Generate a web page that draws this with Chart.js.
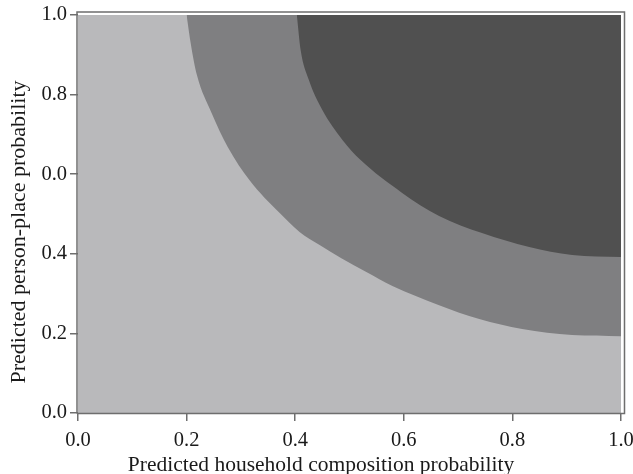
<!DOCTYPE html>
<html>
<head>
<meta charset="utf-8">
<script src="https://cdn.jsdelivr.net/npm/chart.js@4.4.1/dist/chart.umd.min.js"></script>
<style>
  html, body { margin: 0; padding: 0; background: #ffffff; overflow: hidden; }
</style>
</head>
<body>
<canvas id="contourChart" width="633" height="474"></canvas>
<script>
// tick labels as printed on the axes
const xTickLabels = ["0.0", "0.2", "0.4", "0.6", "0.8", "1.0"];
const yTickLabels = ["0.0", "0.2", "0.4", "0.0", "0.8", "1.0"];

// boundary between light and mid band
const midBoundaryX = [0.200, 0.208, 0.219, 0.246, 0.276, 0.316, 0.371, 0.408, 0.445, 0.485, 0.531, 0.579, 0.665, 0.739, 0.818, 0.910, 1.000];
const midBoundaryY = [1.000, 0.925, 0.849, 0.754, 0.668, 0.585, 0.503, 0.455, 0.422, 0.389, 0.354, 0.319, 0.271, 0.236, 0.211, 0.196, 0.193];

// boundary between mid and dark band
const darkBoundaryX = [0.403, 0.410, 0.425, 0.450, 0.487, 0.520, 0.597, 0.665, 0.744, 0.831, 0.910, 1.000];
const darkBoundaryY = [1.000, 0.912, 0.837, 0.761, 0.686, 0.636, 0.553, 0.495, 0.452, 0.417, 0.397, 0.392];

const xTitle = "Predicted household composition probability";
const yTitle = "Predicted person-place probability";

const LIGHT = "#b9b9bb";
const MID = "#7f7f81";
const DARK = "#505050";
const AXIS = "#6e6e6e";
const FONT = "'Liberation Serif', 'Times New Roman', serif";

function toPoints(xs, ys) {
  return xs.map((x, i) => ({ x: x, y: ys[i] }));
}

// fixed axis sizes, no extra room for overhanging tick labels
function pinSize(prop, size) {
  return (s) => {
    s[prop] = size;
    s.paddingLeft = s.paddingRight = s.paddingTop = s.paddingBottom = 0;
  };
}

// frame around the plot + axis titles centred on the canvas
const framePlugin = {
  id: "frame",
  afterDraw(chart) {
    const { ctx, chartArea: a } = chart;
    ctx.save();
    ctx.strokeStyle = AXIS;
    ctx.lineWidth = 1.5;
    ctx.beginPath();
    ctx.moveTo(a.left - 1, a.bottom + 0.5);
    ctx.lineTo(a.left - 1, a.top - 3);
    ctx.lineTo(a.right + 3.5, a.top - 3);
    ctx.lineTo(a.right + 3.5, a.bottom + 0.5);
    ctx.lineTo(a.left - 1, a.bottom + 0.5);
    ctx.stroke();

    ctx.fillStyle = "#1a1a1a";
    ctx.textAlign = "center";
    ctx.textBaseline = "alphabetic";
    ctx.font = "21.5px " + FONT;
    ctx.fillText(xTitle, 321, 471);

    ctx.font = "22px " + FONT;
    ctx.translate(25, 232);
    ctx.rotate(-Math.PI / 2);
    ctx.fillText(yTitle, 0, 0);
    ctx.restore();
  }
};

const bandStyle = {
  borderWidth: 0,
  pointRadius: 0,
  fill: "end",
  cubicInterpolationMode: "monotone"
};

new Chart(document.getElementById("contourChart"), {
  type: "line",
  data: {
    datasets: [
      Object.assign({ data: toPoints(darkBoundaryX, darkBoundaryY), backgroundColor: DARK }, bandStyle),
      Object.assign({ data: toPoints(midBoundaryX, midBoundaryY), backgroundColor: MID }, bandStyle),
      Object.assign({ data: [{ x: 0, y: 0 }, { x: 1, y: 0 }], backgroundColor: LIGHT }, bandStyle)
    ]
  },
  options: {
    responsive: false,
    animation: false,
    layout: { autoPadding: false, padding: { top: 15, right: 12, left: 0, bottom: 0 } },
    plugins: {
      legend: { display: false },
      tooltip: { enabled: false }
    },
    scales: {
      x: {
        type: "linear",
        min: 0,
        max: 1,
        afterFit: pinSize("height", 61),
        border: { display: false },
        grid: { drawOnChartArea: false, drawTicks: true, tickLength: 8, color: AXIS, lineWidth: 1.5 },
        ticks: {
          stepSize: 0.2,
          padding: 7,
          color: "#1a1a1a",
          font: { family: FONT, size: 20.5 },
          callback: (v, i) => xTickLabels[i]
        }
      },
      y: {
        type: "linear",
        min: 0,
        max: 1,
        afterFit: pinSize("width", 78),
        border: { display: false },
        grid: { drawOnChartArea: false, drawTicks: true, tickLength: 8, color: AXIS, lineWidth: 1.5 },
        ticks: {
          stepSize: 0.2,
          padding: 3,
          color: "#1a1a1a",
          font: { family: FONT, size: 20.5 },
          callback: (v, i) => yTickLabels[i]
        }
      }
    }
  },
  plugins: [framePlugin]
});
</script>
</body>
</html>
